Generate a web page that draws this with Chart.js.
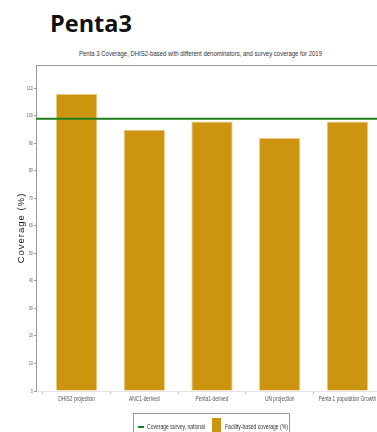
<!DOCTYPE html>
<html>
<head>
<meta charset="utf-8">
<script src="https://cdn.jsdelivr.net/npm/chart.js@4.4.1/dist/chart.umd.min.js"></script>
<style>
  html, body { margin: 0; padding: 0; background: #fff; width: 377px; height: 432px; overflow: hidden; }
  #heading { position: absolute; left: 50px; top: 12px; font: bold 23.5px "Open Sans", sans-serif; color: #111; line-height: 1; }
  .narrow { position: absolute; white-space: nowrap; line-height: 1; font-family: "Liberation Sans", Arial, sans-serif; transform-origin: 0 0; }
  #subtitle { left: 79px; top: 50px; font-size: 7.5px; color: #333; }
  #wrap { position: absolute; left: 0; top: 0; width: 388px; height: 432px; }
  #legend { position: absolute; left: 133px; top: 413px; width: 155px; height: 30px; border: 1px solid #999; }
  #legend .narrow { top: 10px; font-size: 6.5px; color: #333; }
  #legend .swatch-line { position: absolute; left: 4px; top: 12px; width: 6px; height: 1.5px; background: #1e7b1e; }
  #legend .swatch-box { position: absolute; left: 78px; top: 4px; width: 9px; height: 30px; background: #cd940f; }
</style>
</head>
<body>
<div id="heading">Penta3</div>
<div id="subtitle" class="narrow" data-w="243">Penta 3 Coverage, DHIS2-based with different denominators, and survey coverage for 2019</div>
<div id="wrap"><canvas id="chart"></canvas></div>
<div id="legend">
  <span class="swatch-line"></span>
  <span class="narrow" style="left:13px" data-w="58">Coverage survey, national</span>
  <span class="swatch-box"></span>
  <span class="narrow" style="left:91px" data-w="63">Facility-based coverage (%)</span>
</div>
<script>
const categories = ["DHIS2 projection", "ANC1-derived", "Penta1-derived", "UN projection", "Penta 1 population Growth"];
const facilityCoverage = [108, 95, 98, 92, 98];
const surveyCoverage = 99;
const yTicks = [0, 10, 20, 30, 40, 50, 60, 70, 80, 90, 100, 110];

const barColor = "#cd940f";
const lineColor = "#1e7b1e";

// squeeze the small captions into an Arial Narrow-like width
document.querySelectorAll(".narrow[data-w]").forEach((el) => {
  const w = el.getBoundingClientRect().width;
  el.style.transform = "scaleX(" + (Number(el.dataset.w) / w) + ")";
});

// bars sit at 1..n on a numeric x axis so the padding either side matches ggplot's
const barPoints = facilityCoverage.map((v, i) => ({ x: i + 1, y: v }));
const xMin = 0.4;
const xMax = categories.length + 0.6;

// top edge of the panel, condensed tick labels and the rotated axis title
const panelFrame = {
  id: "panelFrame",
  afterDraw(chart) {
    const { ctx, chartArea, scales } = chart;
    ctx.save();
    ctx.strokeStyle = "#999";
    ctx.lineWidth = 1;
    ctx.beginPath();
    ctx.moveTo(chartArea.left, chartArea.top + 0.5);
    ctx.lineTo(chartArea.right, chartArea.top + 0.5);
    ctx.stroke();

    ctx.textBaseline = "middle";
    ctx.font = "6.5px 'Liberation Sans', sans-serif";
    ctx.fillStyle = "#555";
    ctx.textAlign = "center";
    scales.x.ticks.forEach((t) => {
      ctx.save();
      ctx.translate(scales.x.getPixelForValue(t.value), chartArea.bottom + 8);
      ctx.scale(0.75, 1);
      ctx.fillText(categories[t.value - 1], 0, 0);
      ctx.restore();
    });

    ctx.font = "5.5px 'Liberation Sans', sans-serif";
    ctx.fillStyle = "#666";
    ctx.textAlign = "right";
    scales.y.ticks.forEach((t) => {
      ctx.save();
      ctx.translate(chartArea.left - 3, scales.y.getPixelForValue(t.value));
      ctx.scale(0.7, 1);
      ctx.fillText(String(t.value), 0, 0);
      ctx.restore();
    });

    ctx.translate(21, (chartArea.top + chartArea.bottom) / 2);
    ctx.rotate(-Math.PI / 2);
    ctx.font = "9.5px 'Liberation Sans', sans-serif";
    ctx.letterSpacing = "1px";
    ctx.fillStyle = "#222";
    ctx.textAlign = "center";
    ctx.fillText("Coverage (%)", 0, 0);
    ctx.restore();
  },
};

const ctx = document.getElementById("chart");

new Chart(ctx, {
  type: "bar",
  data: {
    datasets: [
      {
        type: "line",
        label: "Coverage survey, national",
        data: [{ x: xMin, y: surveyCoverage }, { x: xMax, y: surveyCoverage }],
        borderColor: lineColor,
        borderWidth: 2,
        pointRadius: 0,
        order: 0,
      },
      {
        label: "Facility-based coverage (%)",
        data: barPoints,
        backgroundColor: barColor,
        borderColor: "#ecc986",
        borderWidth: 1,
        borderSkipped: "bottom",
        barPercentage: 0.61,
        categoryPercentage: 1,
        order: 1,
      },
    ],
  },
  options: {
    responsive: true,
    maintainAspectRatio: false,
    animation: false,
    layout: { padding: { top: 65, left: 0, right: 0, bottom: 0 } },
    plugins: {
      legend: { display: false },
      title: { display: false },
      tooltip: { enabled: false },
    },
    scales: {
      x: {
        type: "linear",
        min: xMin,
        max: xMax,
        offset: false,
        afterBuildTicks(scale) {
          scale.ticks = categories.map((c, i) => ({ value: i + 1 }));
        },
        afterFit(scale) {
          scale.height = 41;
        },
        ticks: { display: false },
        grid: { display: true, drawOnChartArea: false, drawTicks: true, tickLength: 3, color: "#bbb" },
        border: { display: true, color: "#e4e4e4" },
      },
      y: {
        min: 0,
        max: 118.5,
        afterBuildTicks(scale) {
          scale.ticks = yTicks.map((v) => ({ value: v }));
        },
        afterFit(scale) {
          scale.width = 36;
        },
        ticks: { display: false },
        grid: { display: true, drawOnChartArea: false, drawTicks: true, tickLength: 2, color: "#999" },
        border: { display: true, color: "#999" },
      },
    },
  },
  plugins: [panelFrame],
});
</script>
</body>
</html>
